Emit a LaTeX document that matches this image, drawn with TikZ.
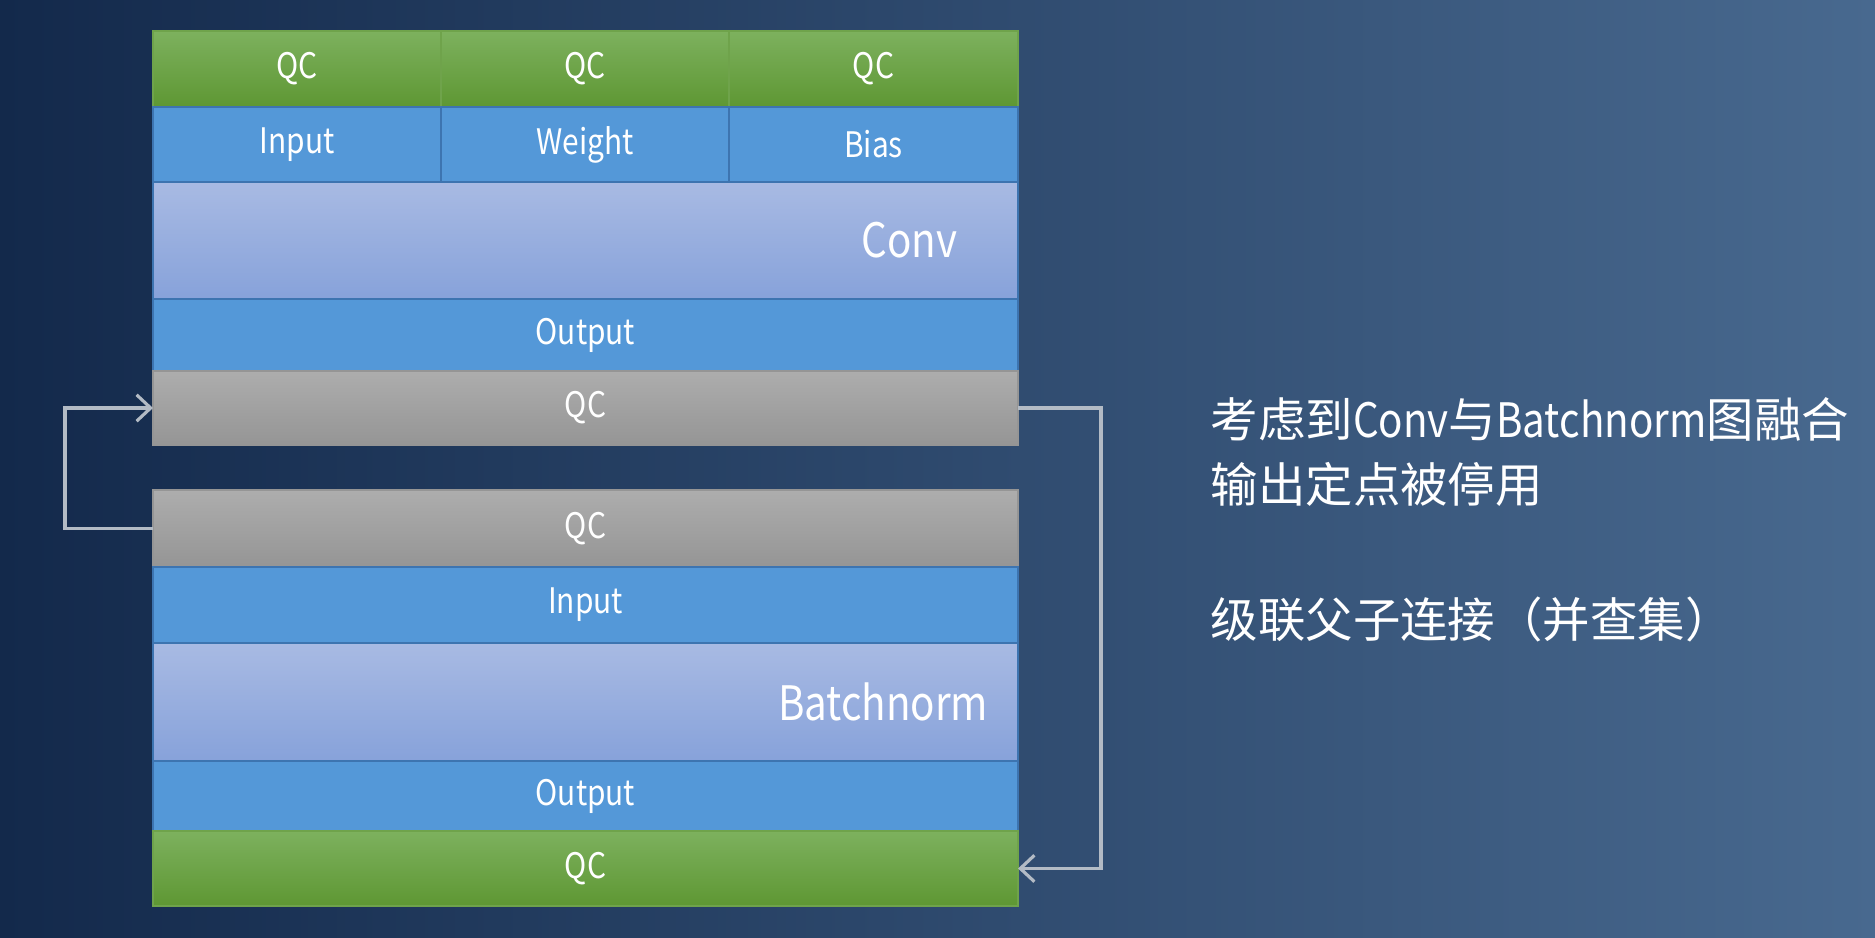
\documentclass[tikz,border=0pt]{standalone}
\usepackage{fontspec}
\setmainfont{Noto Sans CJK SC}
\newfontfamily\narrowlatin[FakeStretch=0.85]{Noto Sans CJK SC}
\usetikzlibrary{arrows.meta}
\usetikzlibrary{positioning}

\definecolor{bgleft}{HTML}{13294B}
\definecolor{bgright}{HTML}{48698F}
\definecolor{greentop}{HTML}{7DB15E}
\definecolor{greenbot}{HTML}{5E9733}
\definecolor{greenline}{HTML}{6FA34B}
\definecolor{cellblue}{HTML}{5498D8}
\definecolor{blueline}{HTML}{3D74B0}
\definecolor{optop}{HTML}{A8BAE3}
\definecolor{opbot}{HTML}{87A2DA}
\definecolor{graytop}{HTML}{ADADAD}
\definecolor{graybot}{HTML}{959595}
\definecolor{linkgray}{HTML}{B3BBC5}

\begin{document}
\begin{tikzpicture}[
  cell/.style={rectangle,inner sep=0pt,outer sep=0pt,anchor=north west,line width=0.6pt,text=white,font=\narrowlatin\fontsize{10}{12}\selectfont},
  qcgreen/.style={cell,draw=greenline,top color=greentop,bottom color=greenbot},
  qcgray/.style={cell,draw=graybot,top color=graytop,bottom color=graybot},
  blue/.style={cell,draw=blueline,fill=cellblue},
  opcell/.style={cell,draw=blueline,top color=optop,bottom color=opbot},
  optext/.style={text=white,font=\narrowlatin\fontsize{13.5}{16}\selectfont,inner sep=0pt},
  note/.style={text=white,font=\fontsize{13.5}{16}\selectfont,anchor=west,inner sep=0pt},
  link/.style={draw=linkgray,line width=0.9pt},
  tip/.style={-{Straight Barb[length=4pt,width=7.5pt,line width=0.9pt]}}
]
\useasboundingbox (0,0) rectangle (18.75,9.38);
\shade[left color=bgleft,right color=bgright] (0,0) rectangle (18.75,9.38);

% Conv block
\node[qcgreen,minimum width=2.88cm,minimum height=0.76cm] (tqca) at (1.53,9.07) {QC};
\node[qcgreen,minimum width=2.88cm,minimum height=0.76cm] (tqcb) at (4.41,9.07) {QC};
\node[qcgreen,minimum width=2.89cm,minimum height=0.76cm] (tqcc) at (7.29,9.07) {QC};
\node[blue,minimum width=2.88cm,minimum height=0.75cm] (tin) at (1.53,8.31) {Input};
\node[blue,minimum width=2.88cm,minimum height=0.75cm] (twt) at (4.41,8.31) {Weight};
\node[blue,minimum width=2.89cm,minimum height=0.75cm] (tbias) at (7.29,8.31) {Bias};
\node[opcell,minimum width=8.65cm,minimum height=1.17cm] (conv) at (1.53,7.56) {};
\node[optext,left=0.6cm of conv.east] (convtxt) {Conv};
\node[blue,minimum width=8.65cm,minimum height=0.72cm] (tout) at (1.53,6.39) {Output};
\node[qcgray,minimum width=8.65cm,minimum height=0.74cm] (tqc) at (1.53,5.67) {QC};

% Batchnorm block
\node[qcgray,minimum width=8.65cm,minimum height=0.77cm] (bqc) at (1.53,4.48) {QC};
\node[blue,minimum width=8.65cm,minimum height=0.76cm] (bin) at (1.53,3.71) {Input};
\node[opcell,minimum width=8.65cm,minimum height=1.18cm] (bn) at (1.53,2.95) {};
\node[optext,left=0.29cm of bn.east] (bntxt) {Batchnorm};
\node[blue,minimum width=8.65cm,minimum height=0.70cm] (bout) at (1.53,1.77) {Output};
\node[qcgreen,minimum width=8.65cm,minimum height=0.75cm] (bqcg) at (1.53,1.07) {QC};

% links
\draw[link,tip] (bqc.west) -- ++(-0.88,0) |- (tqc.west);
\draw[link,tip] (tqc.east) -- ++(0.83,0) |- (bqcg.east);

% notes
\node[note] (note1) at (12.10,5.19) {考虑到{\narrowlatin Conv}与{\narrowlatin Batchnorm}图融合};
\node[note] (note2) at (12.10,4.54) {输出定点被停用};
\node[note] (note3) at (12.10,3.19) {级联父子连接（并查集）};

\end{tikzpicture}
\end{document}
